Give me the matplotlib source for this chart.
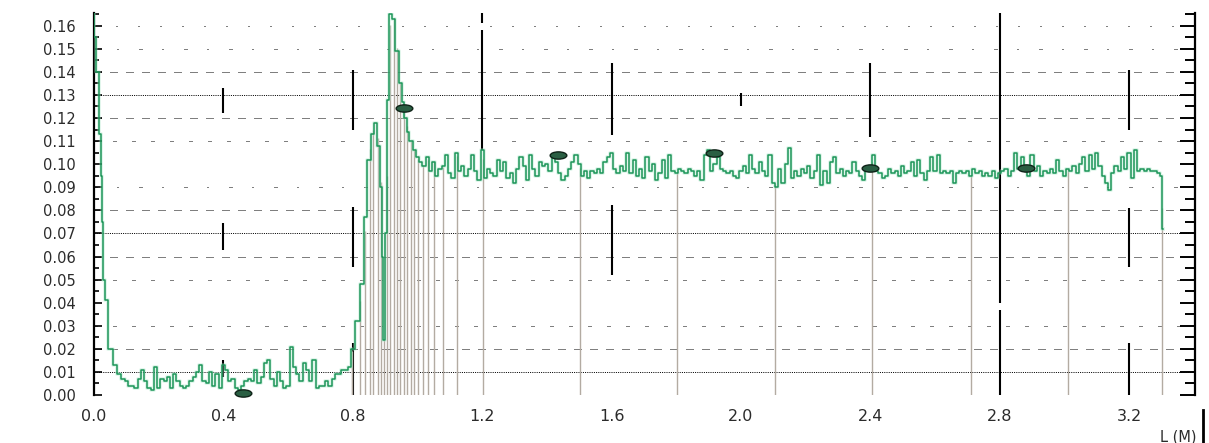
import numpy as np
import matplotlib.pyplot as plt
from matplotlib.lines import Line2D
from matplotlib.path import Path
from matplotlib.transforms import Affine2D
from matplotlib.ticker import MultipleLocator, FormatStrFormatter

# ---- trace data (distance in m, amplitude) ----
# steep drop right after the start
head_x = [0.0, 0.003, 0.009, 0.019, 0.022, 0.025, 0.031, 0.037, 0.05, 0.065, 0.08]
head_y = [0.166, 0.155, 0.140, 0.113, 0.095, 0.075, 0.050, 0.041, 0.020, 0.013, 0.009]

# low noise floor, 0.09 .. 0.78 m, every 0.01 m
floor_start = 0.09
floor_y = [0.007, 0.006, 0.004, 0.004, 0.003, 0.007, 0.011, 0.006, 0.003, 0.002,
           0.012, 0.003, 0.007, 0.006, 0.008, 0.003, 0.009, 0.006, 0.004, 0.003,
           0.004, 0.006, 0.008, 0.010, 0.013, 0.006, 0.005, 0.010, 0.004, 0.009,
           0.003, 0.013, 0.011, 0.006, 0.007, 0.003, 0.002, 0.004, 0.006, 0.007,
           0.006, 0.011, 0.005, 0.008, 0.014, 0.015, 0.007, 0.004, 0.010, 0.006,
           0.003, 0.004, 0.021, 0.012, 0.009, 0.006, 0.014, 0.011, 0.006, 0.015,
           0.003, 0.004, 0.004, 0.006, 0.004, 0.007, 0.009, 0.009, 0.011, 0.011]

# double reflection peak
peak_x = [0.79, 0.80, 0.815, 0.83, 0.84, 0.85, 0.86, 0.871, 0.88, 0.888, 0.893,
          0.897, 0.902, 0.909, 0.917, 0.927, 0.937, 0.947, 0.955, 0.963, 0.97,
          0.98, 0.99, 1.00, 1.01, 1.02, 1.03, 1.04, 1.05, 1.06, 1.07]
peak_y = [0.012, 0.020, 0.032, 0.048, 0.077, 0.102, 0.113, 0.118, 0.108, 0.090, 0.060,
          0.024, 0.070, 0.128, 0.165, 0.163, 0.149, 0.135, 0.127, 0.120, 0.114,
          0.110, 0.106, 0.103, 0.101, 0.099, 0.103, 0.097, 0.101, 0.095, 0.098]

# plateau, 1.08 .. 3.30 m, every 0.01 m
plateau_start = 1.08
plateau_y = [0.099, 0.104, 0.096, 0.094, 0.105, 0.097, 0.099, 0.095, 0.098, 0.104,
             0.097, 0.093, 0.106, 0.094, 0.098, 0.096, 0.095, 0.102, 0.097, 0.101,
             0.094, 0.096, 0.092, 0.098, 0.103, 0.099, 0.093, 0.104, 0.098, 0.095,
             0.101, 0.099, 0.100, 0.097, 0.103, 0.101, 0.096, 0.093, 0.095, 0.098,
             0.101, 0.104, 0.100, 0.095, 0.097, 0.094, 0.097, 0.096, 0.098, 0.096,
             0.101, 0.103, 0.105, 0.098, 0.096, 0.099, 0.097, 0.105, 0.096, 0.102,
             0.095, 0.098, 0.094, 0.103, 0.097, 0.100, 0.093, 0.096, 0.102, 0.094,
             0.104, 0.097, 0.096, 0.098, 0.097, 0.096, 0.098, 0.097, 0.095, 0.097,
             # 1.88
             0.093, 0.104, 0.106, 0.097, 0.100, 0.103, 0.098, 0.097, 0.096, 0.097,
             0.095, 0.094, 0.097, 0.099, 0.096, 0.104, 0.098, 0.096, 0.101, 0.097,
             0.095, 0.104, 0.092, 0.090, 0.098, 0.092, 0.100, 0.107, 0.094, 0.097,
             0.095, 0.098, 0.096, 0.099, 0.094, 0.097, 0.104, 0.091, 0.097, 0.092,
             0.101, 0.103, 0.096, 0.098, 0.095, 0.097, 0.096, 0.101, 0.097, 0.095,
             0.093, 0.097, 0.099, 0.104, 0.097, 0.096, 0.094, 0.095, 0.098, 0.096,
             0.097, 0.095, 0.099, 0.096, 0.097, 0.101, 0.095, 0.102, 0.096, 0.093,
             0.097, 0.103, 0.097, 0.104, 0.096, 0.097, 0.096, 0.097,
             # 2.66
             0.092, 0.096, 0.097, 0.096, 0.097, 0.095, 0.098, 0.096, 0.097, 0.095,
             0.096, 0.095, 0.097, 0.094, 0.096, 0.097, 0.098, 0.095, 0.097, 0.105,
             0.098, 0.103, 0.099, 0.095, 0.104, 0.097, 0.099, 0.095, 0.097, 0.096,
             0.098, 0.096, 0.102, 0.097, 0.095, 0.098, 0.097, 0.099, 0.096, 0.100,
             0.103, 0.097, 0.104, 0.098, 0.105, 0.099, 0.095, 0.092, 0.089, 0.096,
             0.099, 0.097, 0.103, 0.098, 0.105, 0.094, 0.106, 0.097, 0.098, 0.097,
             0.098, 0.097, 0.097, 0.096, 0.095]

tail_x = [3.305]
tail_y = [0.072]

# event markers
mark_x = [0.46, 0.958, 1.435, 1.916, 2.40, 2.88]
mark_y = [0.0008, 0.1245, 0.104, 0.105, 0.0985, 0.0985]

# grey drop lines
stub_x = [0.799, 0.823, 0.838, 0.854, 0.864, 0.877, 0.887, 0.897, 0.905, 0.916,
          0.926, 0.936, 0.947, 0.957, 0.967, 0.980, 0.990, 1.003, 1.016, 1.032,
          1.050, 1.078, 1.122, 1.203, 1.503, 1.803, 2.104, 2.404, 2.71, 3.01, 3.303]

x_ticks = [0.0, 0.4, 0.8, 1.2, 1.6, 2.0, 2.4, 2.8, 3.2]

trace_x = np.concatenate([
    head_x,
    np.round(floor_start + 0.01 * np.arange(len(floor_y)), 3),
    peak_x,
    np.round(plateau_start + 0.01 * np.arange(len(plateau_y)), 3),
    tail_x,
])
trace_y = np.concatenate([head_y, floor_y, peak_y, plateau_y, tail_y])

fig = plt.figure(figsize=(12.09, 4.43), dpi=100)
ax = fig.add_axes([94 / 1209, 48 / 443, 1101 / 1209, 382 / 443])
ax.set_xlim(0, 3.404)
ax.set_ylim(0, 0.1655)

# dotted horizontal grid, pattern changes from row to row
dense = (0, (1, 1.2))
groups = (0, (1, 1, 1, 1, 1, 1, 1, 9))
pairs = (0, (1, 1, 1, 16))
sparse = (0, (1, 1, 1, 20, 1, 21))
single = (0, (1, 21))
row_style = {0.0: single, 0.01: dense, 0.02: groups, 0.03: pairs, 0.05: pairs,
             0.06: groups, 0.07: dense, 0.08: groups, 0.09: sparse, 0.11: pairs,
             0.12: groups, 0.13: dense, 0.14: groups, 0.15: sparse, 0.16: single}
for lvl, st in row_style.items():
    ax.axhline(lvl, color='black', lw=0.72, linestyle=st, zorder=1)

# broken black vertical lines at the major x positions
vsegs = {0.4: [(0.122, 0.133), (0.063, 0.0745), (0.008, 0.015)],
         0.8: [(0.1147, 0.1407), (0.0555, 0.0814), (0.0, 0.0225)],
         1.2: [(0.106, 0.158), (0.161, 0.1655)],
         1.6: [(0.1125, 0.1437), (0.052, 0.0822)],
         2.0: [(0.125, 0.131)],
         2.4: [(0.1117, 0.144)],
         2.8: [(0.040, 0.1655), (0.0, 0.0368)],
         3.2: [(0.1147, 0.1407), (0.0555, 0.081), (0.0, 0.0225)]}
for xv, parts in vsegs.items():
    for y0, y1 in parts:
        ax.vlines(xv, y0, y1, color='black', lw=1.5, zorder=2)

# grey drop lines up to the trace
stub_top = np.interp(stub_x, trace_x, trace_y)
ax.vlines(stub_x, 0, stub_top, color='#b3aba2', lw=1.0, zorder=3)

# trace with a light halo
ax.plot(trace_x, trace_y, color='#a8e6c8', lw=2.8, alpha=0.35,
        drawstyle='steps-mid', zorder=4)
ax.plot(trace_x, trace_y, color='#1c9558', lw=1.1,
        drawstyle='steps-mid', zorder=5)

# elliptical event markers
ell = Path.unit_circle().transformed(Affine2D().scale(2.3, 1.0))
ax.plot(mark_x, mark_y, ls='none', marker=ell, ms=12, mfc='#2a5f43',
        mec='#0f2318', mew=1.0, zorder=6, clip_on=False)

# axes frame
ax.spines['top'].set_visible(False)
ax.spines['bottom'].set_visible(False)
ax.spines['right'].set_visible(False)
ax.spines['left'].set_linewidth(1.6)

ax.yaxis.set_major_locator(MultipleLocator(0.01))
ax.yaxis.set_minor_locator(MultipleLocator(0.005))
ax.yaxis.set_major_formatter(FormatStrFormatter('%.2f'))
ax.tick_params(axis='y', which='major', direction='in', length=6, width=1.2,
               pad=13, labelsize=10.5, labelcolor='#2b2b2b')
ax.tick_params(axis='y', which='minor', direction='in', length=3.8, width=1.2)

ax.set_xticks(x_ticks)
ax.xaxis.set_major_formatter(FormatStrFormatter('%.1f'))
ax.tick_params(axis='x', length=0, pad=10, labelsize=11.5, labelcolor='#2b2b2b')

sec = ax.secondary_yaxis('right')
sec.spines['right'].set_linewidth(1.6)
sec.yaxis.set_major_locator(MultipleLocator(0.01))
sec.yaxis.set_minor_locator(MultipleLocator(0.005))
sec.tick_params(which='major', direction='in', length=10.8, width=1.4, labelright=False)
sec.tick_params(which='minor', direction='in', length=7, width=1.4)

fig.text(1197 / 1209, 1 - 437 / 443, 'L (M)', ha='right', va='center',
         fontsize=10.5, color='#2b2b2b')
fig.add_artist(Line2D([1203 / 1209, 1203 / 1209], [0, 1 - 410 / 443],
                      color='black', lw=2))

fig.savefig('out.png', dpi=100)
